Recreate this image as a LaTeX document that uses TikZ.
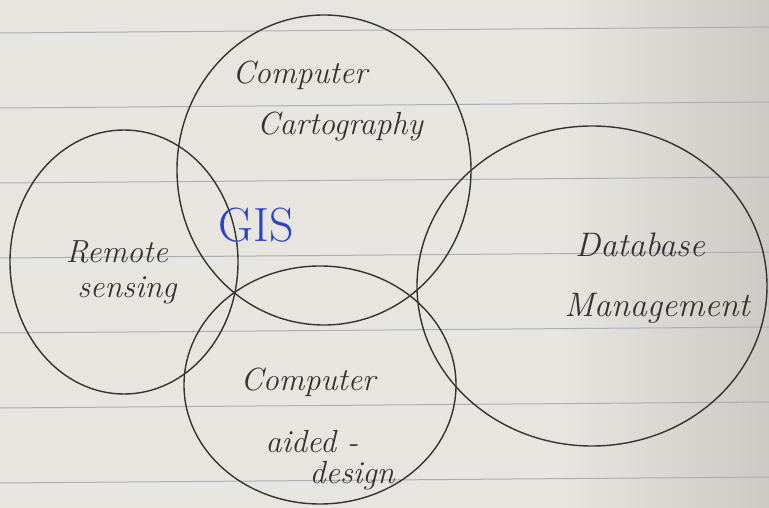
\documentclass[tikz,border=0pt]{standalone}
\usepackage{tikz}
\usetikzlibrary{calc}
\definecolor{PaperGray}{HTML}{E7E5E0}
\definecolor{PaperDark}{HTML}{CDCAC5}
\definecolor{RuleBlue}{HTML}{A9AEB8}
\definecolor{PencilInk}{HTML}{333333}
\definecolor{PenBlue}{HTML}{2B42C6}
\tikzset{
  ring/.style={draw=PencilInk, line width=1.4pt},
  hand/.style={text=PencilInk, font=\itshape\fontsize{32}{34}\selectfont, inner sep=0pt},
}

\begin{document}
\begin{tikzpicture}[x=1pt, y=-1pt]
  % paper
  \fill[PaperGray] (0,0) rectangle (769,508);
  \shade[left color=PaperGray, right color=PaperDark] (560,0) rectangle (769,508);
  \useasboundingbox (0,0) rectangle (769,508);
  \foreach \y in {33,108,...,483}
    \draw[RuleBlue, line width=1pt] (0,\y) -- (769,{\y-6});
  % the four rings
  \draw[ring] (324,170) ellipse [x radius=147pt, y radius=155pt];
  \draw[ring] (124,262) ellipse [x radius=114pt, y radius=132pt];
  \draw[ring] (320,385) ellipse [x radius=136pt, y radius=119pt];
  \draw[ring] (592,286) ellipse [x radius=175pt, y radius=160pt];
  % labels
  \node[hand] (carto1) at (300,75) {Computer};
  \node[hand] (carto2) at (340,127) {Cartography};
  \node[hand] (remote1) at (117,252) {Remote};
  \node[hand] (remote2) at (127,290) {sensing};
  \node[hand, font=\itshape\fontsize{34}{36}\selectfont] (dbm1) at (640,245) {Database};
  \node[hand, font=\itshape\fontsize{34}{36}\selectfont] (dbm2) at (657,308) {Management};
  \node[hand] (cad1) at (308,382) {Computer};
  \node[hand] (cad2) at (312,442) {aided -};
  \node[hand] (cad3) at (352,476) {design};
  \node[hand, text=PenBlue, font=\fontsize{48}{50}\selectfont] (gis) at (256,225) {GIS};
\end{tikzpicture}
\end{document}
